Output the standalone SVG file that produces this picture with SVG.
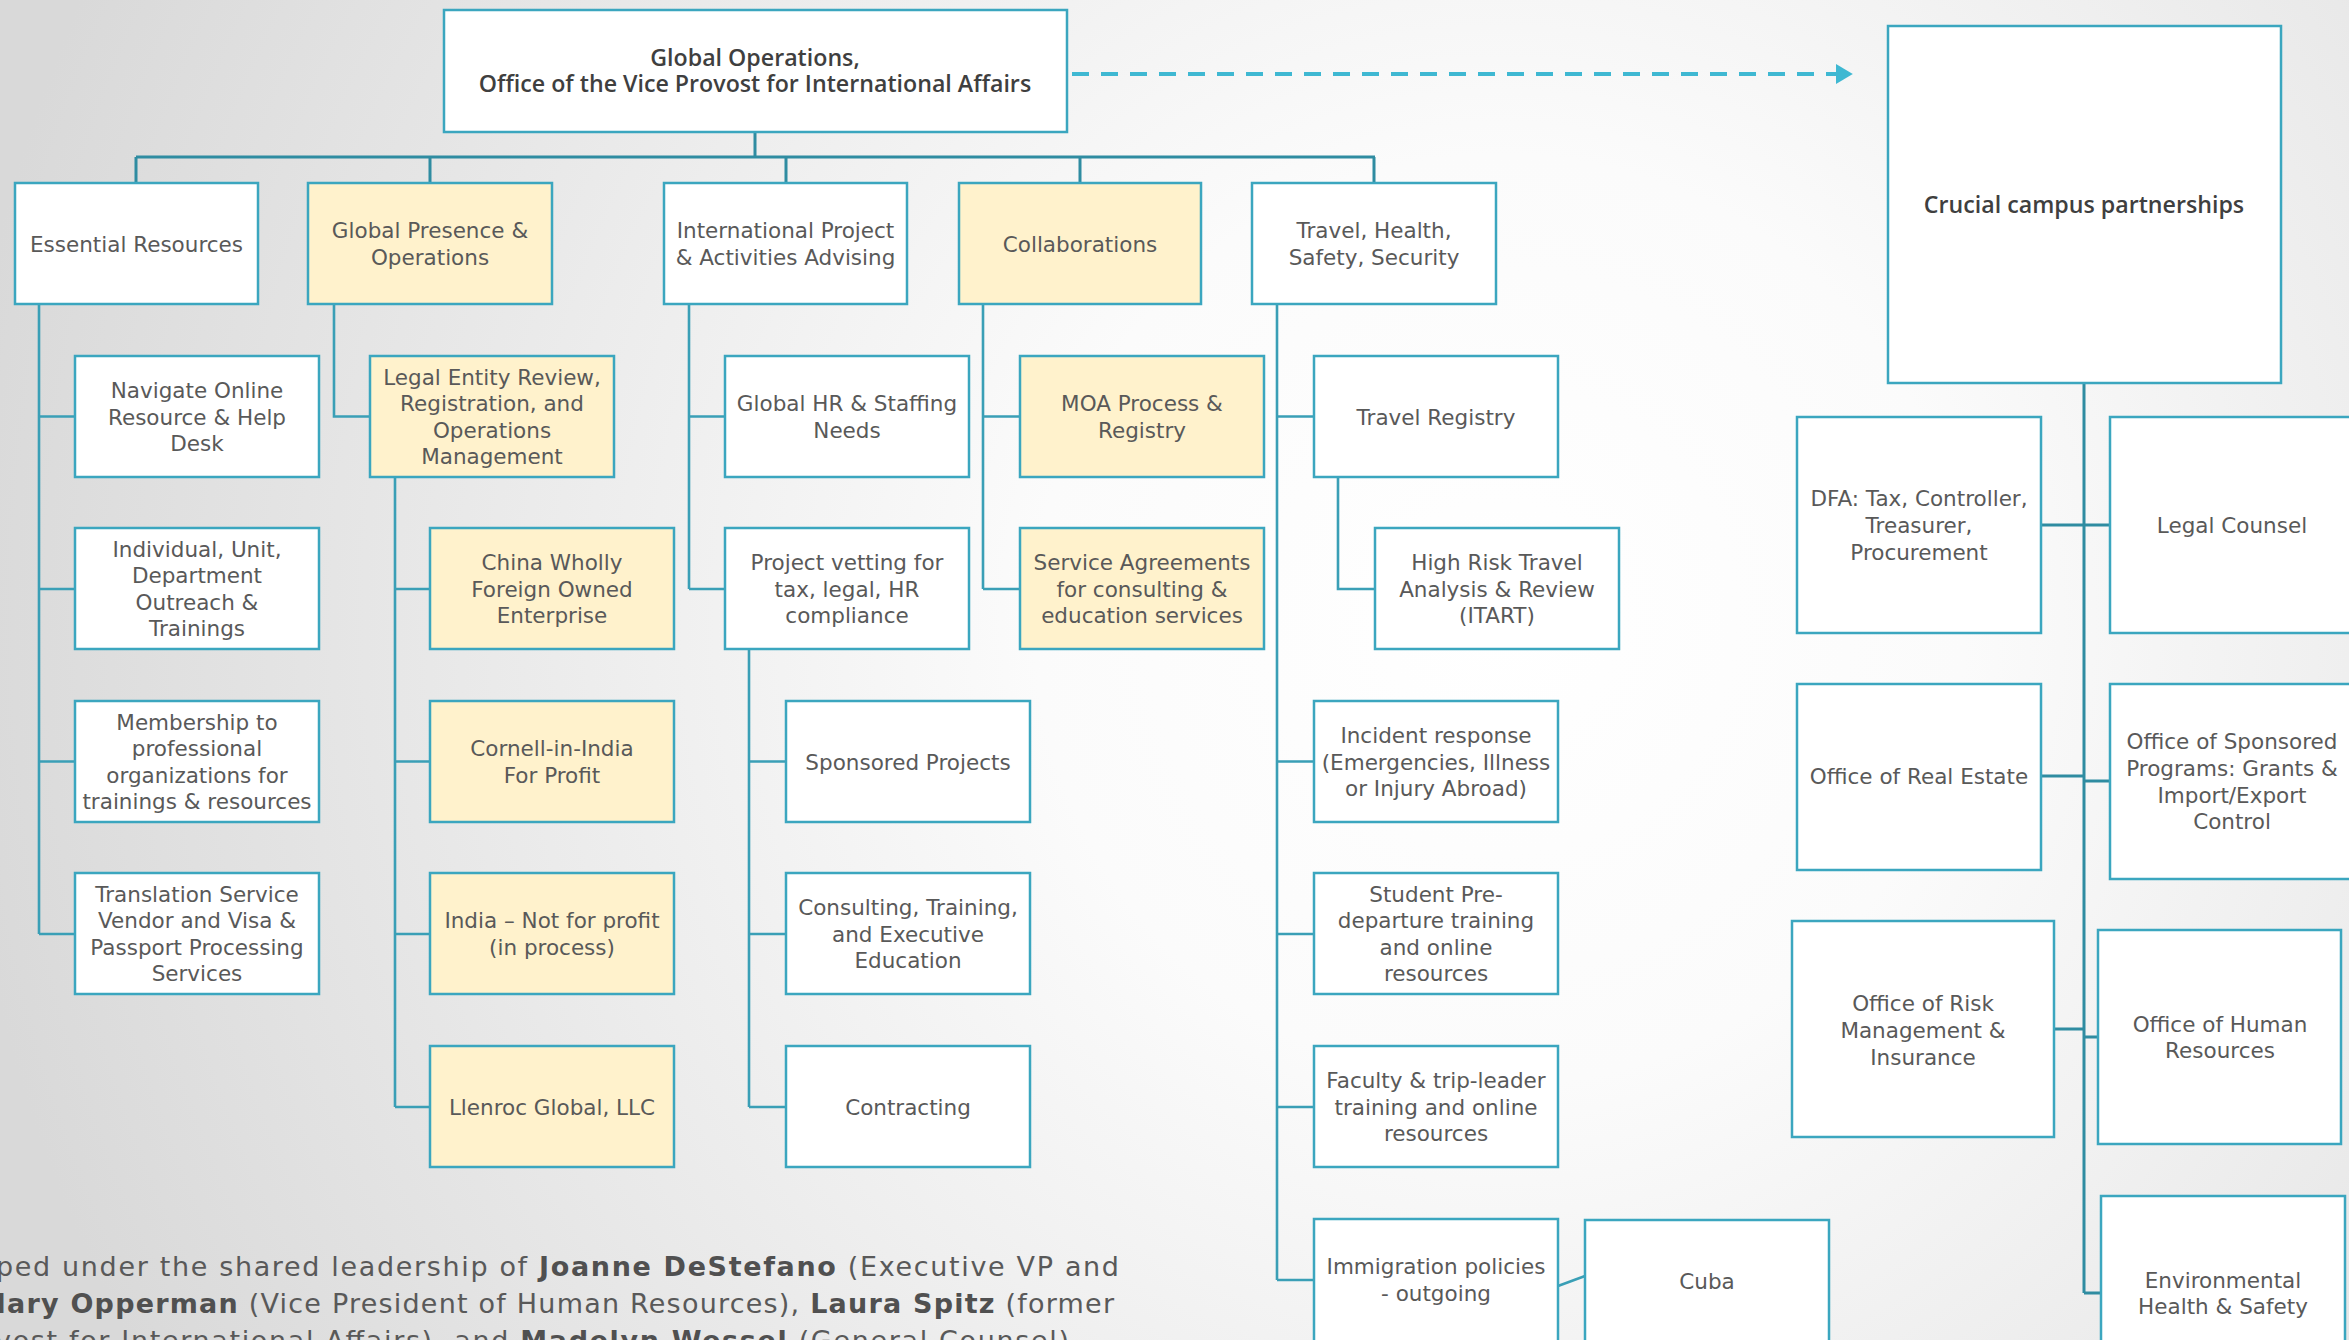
<svg xmlns="http://www.w3.org/2000/svg" width="2349" height="1340" viewBox="0 0 2349 1340">
<defs>
<radialGradient id="bg" gradientUnits="userSpaceOnUse" cx="1500" cy="620" r="1550">
<stop offset="0" stop-color="#ffffff"/>
<stop offset="0.3" stop-color="#fbfbfb"/>
<stop offset="1" stop-color="#d9d9d9"/>
</radialGradient>
<marker id="arr" markerWidth="5" markerHeight="5" refX="0.5" refY="2.5" orient="auto" markerUnits="strokeWidth">
<path d="M0,0 L4.2,2.5 L0,5 Z" fill="#3fb8d2"/>
</marker>
<style>
.b{fill:#ffffff;stroke:#3ba6bf;stroke-width:2.5}
.y{fill:#fff2cc;stroke:#3ba6bf;stroke-width:2.5}
.t{font-family:"DejaVu Sans","Liberation Sans",sans-serif;font-size:21.5px;fill:#595959;text-anchor:middle}
.h{font-family:"Open Sans","Liberation Sans",sans-serif;font-weight:600;font-size:23.2px;fill:#3f3f3f;text-anchor:middle}
.c{fill:none;stroke:#3a9fb6;stroke-width:2.6}
.bus{fill:none;stroke:#2f8ca1;stroke-width:3}
.p{font-family:"DejaVu Sans","Liberation Sans",sans-serif;font-size:27px;fill:#595959}
.p tspan.k{font-weight:bold;fill:#505050}
</style>
</defs>
<rect x="0" y="0" width="2349" height="1340" fill="url(#bg)"/>

<g id="connectors">
<path class="bus" d="M755,132 V157 M136,157 H1375 M136,157 V183 M430,157 V183 M786,157 V183 M1080,157 V183 M1374,157 V183"/>
<path class="c" d="M39,304 V934 M39,416.5 H75 M39,589 H75 M39,761.5 H75 M39,934 H75"/>
<path class="c" d="M334,304 V416.5 H370"/>
<path class="c" d="M395,477 V1107 M395,589 H430 M395,761.5 H430 M395,934 H430 M395,1107 H430"/>
<path class="c" d="M689,304 V589 M689,416.5 H725 M689,589 H725"/>
<path class="c" d="M749,650 V1107 M749,761.5 H786 M749,934 H786 M749,1107 H786"/>
<path class="c" d="M983,304 V589 M983,416.5 H1020 M983,589 H1020"/>
<path class="c" d="M1277,304 V1280 M1277,416.5 H1314 M1277,761.5 H1314 M1277,934 H1314 M1277,1107 H1314 M1277,1280 H1314"/>
<path class="c" d="M1338,477 V589 H1375"/>
<path class="c" d="M1558,1286 L1585,1276"/>
<path class="bus" d="M2084,383 V1293 M2041,525 H2110 M2041,776 H2084 M2084,781 H2110 M2054,1029 H2084 M2084,1037 H2098 M2084,1293 H2101"/>
<path d="M1072,74 H1838" fill="none" stroke="#3fb8d2" stroke-width="4" stroke-dasharray="17,12" marker-end="url(#arr)"/>
</g>

<g id="main"><rect class="b" x="444" y="10" width="623" height="122"/>
<text class="h" x="755" y="66">Global Operations,</text><text class="h" x="755" y="92">Office of the Vice Provost for International Affairs</text></g>

<g id="crucial"><rect class="b" x="1888" y="26" width="393" height="357"/>
<text class="h" x="2084" y="213">Crucial campus partnerships</text></g>

<g id="essential"><rect class="b" x="15" y="183" width="243" height="121"/>
<text class="t" x="136.5" y="251.5">Essential Resources</text></g>
<g id="global-presence"><rect class="y" x="308" y="183" width="244" height="121"/>
<text class="t" x="430" y="238">Global Presence &amp;</text><text class="t" x="430" y="265">Operations</text></g>
<g id="intl-project"><rect class="b" x="664" y="183" width="243" height="121"/>
<text class="t" x="785.5" y="238">International Project</text><text class="t" x="785.5" y="265">&amp; Activities Advising</text></g>
<g id="collaborations"><rect class="y" x="959" y="183" width="242" height="121"/>
<text class="t" x="1080" y="251.5">Collaborations</text></g>
<g id="travel"><rect class="b" x="1252" y="183" width="244" height="121"/>
<text class="t" x="1374" y="238">Travel, Health,</text><text class="t" x="1374" y="265">Safety, Security</text></g>

<g id="navigate"><rect class="b" x="75" y="356" width="244" height="121"/>
<text class="t" x="197" y="398">Navigate Online</text><text class="t" x="197" y="424.5">Resource &amp; Help</text><text class="t" x="197" y="451">Desk</text></g>
<g id="individual"><rect class="b" x="75" y="528" width="244" height="121"/>
<text class="t" x="197" y="556.6">Individual, Unit,</text><text class="t" x="197" y="583.2">Department</text><text class="t" x="197" y="609.8">Outreach &amp;</text><text class="t" x="197" y="636.4">Trainings</text></g>
<g id="membership"><rect class="b" x="75" y="701" width="244" height="121"/>
<text class="t" x="197" y="729.6">Membership to</text><text class="t" x="197" y="756.2">professional</text><text class="t" x="197" y="782.8">organizations for</text><text class="t" x="197" y="809.4">trainings &amp; resources</text></g>
<g id="translation"><rect class="b" x="75" y="873" width="244" height="121"/>
<text class="t" x="197" y="901.6">Translation Service</text><text class="t" x="197" y="928.2">Vendor and Visa &amp;</text><text class="t" x="197" y="954.8">Passport Processing</text><text class="t" x="197" y="981.4">Services</text></g>

<g id="legal-entity"><rect class="y" x="370" y="356" width="244" height="121"/>
<text class="t" x="492" y="384.6">Legal Entity Review,</text><text class="t" x="492" y="411.2">Registration, and</text><text class="t" x="492" y="437.8">Operations</text><text class="t" x="492" y="464.4">Management</text></g>
<g id="china"><rect class="y" x="430" y="528" width="244" height="121"/>
<text class="t" x="552" y="570">China Wholly</text><text class="t" x="552" y="596.5">Foreign Owned</text><text class="t" x="552" y="623">Enterprise</text></g>
<g id="cornell-india"><rect class="y" x="430" y="701" width="244" height="121"/>
<text class="t" x="552" y="756">Cornell-in-India</text><text class="t" x="552" y="783">For Profit</text></g>
<g id="india-nfp"><rect class="y" x="430" y="873" width="244" height="121"/>
<text class="t" x="552" y="928">India – Not for profit</text><text class="t" x="552" y="955">(in process)</text></g>
<g id="llenroc"><rect class="y" x="430" y="1046" width="244" height="121"/>
<text class="t" x="552" y="1114.5">Llenroc Global, LLC</text></g>

<g id="global-hr"><rect class="b" x="725" y="356" width="244" height="121"/>
<text class="t" x="847" y="411">Global HR &amp; Staffing</text><text class="t" x="847" y="438">Needs</text></g>
<g id="project-vetting"><rect class="b" x="725" y="528" width="244" height="121"/>
<text class="t" x="847" y="570">Project vetting for</text><text class="t" x="847" y="596.5">tax, legal, HR</text><text class="t" x="847" y="623">compliance</text></g>
<g id="sponsored-projects"><rect class="b" x="786" y="701" width="244" height="121"/>
<text class="t" x="908" y="769.5">Sponsored Projects</text></g>
<g id="consulting"><rect class="b" x="786" y="873" width="244" height="121"/>
<text class="t" x="908" y="915">Consulting, Training,</text><text class="t" x="908" y="941.5">and Executive</text><text class="t" x="908" y="968">Education</text></g>
<g id="contracting"><rect class="b" x="786" y="1046" width="244" height="121"/>
<text class="t" x="908" y="1114.5">Contracting</text></g>

<g id="moa"><rect class="y" x="1020" y="356" width="244" height="121"/>
<text class="t" x="1142" y="411">MOA Process &amp;</text><text class="t" x="1142" y="438">Registry</text></g>
<g id="service-agreements"><rect class="y" x="1020" y="528" width="244" height="121"/>
<text class="t" x="1142" y="570">Service Agreements</text><text class="t" x="1142" y="596.5">for consulting &amp;</text><text class="t" x="1142" y="623">education services</text></g>

<g id="travel-registry"><rect class="b" x="1314" y="356" width="244" height="121"/>
<text class="t" x="1436" y="424.5">Travel Registry</text></g>
<g id="itart"><rect class="b" x="1375" y="528" width="244" height="121"/>
<text class="t" x="1497" y="570">High Risk Travel</text><text class="t" x="1497" y="596.5">Analysis &amp; Review</text><text class="t" x="1497" y="623">(ITART)</text></g>
<g id="incident"><rect class="b" x="1314" y="701" width="244" height="121"/>
<text class="t" x="1436" y="743">Incident response</text><text class="t" x="1436" y="769.5">(Emergencies, Illness</text><text class="t" x="1436" y="796">or Injury Abroad)</text></g>
<g id="student"><rect class="b" x="1314" y="873" width="244" height="121"/>
<text class="t" x="1436" y="901.6">Student Pre-</text><text class="t" x="1436" y="928.2">departure training</text><text class="t" x="1436" y="954.8">and online</text><text class="t" x="1436" y="981.4">resources</text></g>
<g id="faculty"><rect class="b" x="1314" y="1046" width="244" height="121"/>
<text class="t" x="1436" y="1088">Faculty &amp; trip-leader</text><text class="t" x="1436" y="1114.5">training and online</text><text class="t" x="1436" y="1141">resources</text></g>
<g id="immigration"><rect class="b" x="1314" y="1219" width="244" height="130"/>
<text class="t" x="1436" y="1274">Immigration policies</text><text class="t" x="1436" y="1301">- outgoing</text></g>
<g id="cuba"><rect class="b" x="1585" y="1220" width="244" height="130"/>
<text class="t" x="1707" y="1289">Cuba</text></g>

<g id="dfa"><rect class="b" x="1797" y="417" width="244" height="216"/>
<text class="t" x="1919" y="506.4">DFA: Tax, Controller,</text><text class="t" x="1919" y="533">Treasurer,</text><text class="t" x="1919" y="559.6">Procurement</text></g>
<g id="legal-counsel"><rect class="b" x="2110" y="417" width="244" height="216"/>
<text class="t" x="2232" y="533">Legal Counsel</text></g>
<g id="real-estate"><rect class="b" x="1797" y="684" width="244" height="186"/>
<text class="t" x="1919" y="784">Office of Real Estate</text></g>
<g id="sponsored-programs"><rect class="b" x="2110" y="684" width="244" height="195"/>
<text class="t" x="2232" y="749">Office of Sponsored</text><text class="t" x="2232" y="776">Programs: Grants &amp;</text><text class="t" x="2232" y="803">Import/Export</text><text class="t" x="2232" y="829">Control</text></g>
<g id="risk"><rect class="b" x="1792" y="921" width="262" height="216"/>
<text class="t" x="1923" y="1011">Office of Risk</text><text class="t" x="1923" y="1038">Management &amp;</text><text class="t" x="1923" y="1065">Insurance</text></g>
<g id="hr"><rect class="b" x="2098" y="930" width="243" height="214"/>
<text class="t" x="2220" y="1032">Office of Human</text><text class="t" x="2220" y="1058">Resources</text></g>
<g id="ehs"><rect class="b" x="2101" y="1196" width="244" height="200"/>
<text class="t" x="2223" y="1288">Environmental</text><text class="t" x="2223" y="1314">Health &amp; Safety</text></g>

<g id="note">
<text class="p" x="-4" y="1276" textLength="1123" lengthAdjust="spacing">ped under the shared leadership of <tspan class="k">Joanne DeStefano</tspan> (Executive VP and</text>
<text class="p" x="-21" y="1313" textLength="1135" lengthAdjust="spacing"><tspan class="k">Mary Opperman</tspan> (Vice President of Human Resources), <tspan class="k">Laura Spitz</tspan> (former</text>
<text class="p" x="-5" y="1350" textLength="1074" lengthAdjust="spacing">vost for International Affairs), and <tspan class="k">Madelyn Wessel</tspan> (General Counsel)</text>
</g>
</svg>
